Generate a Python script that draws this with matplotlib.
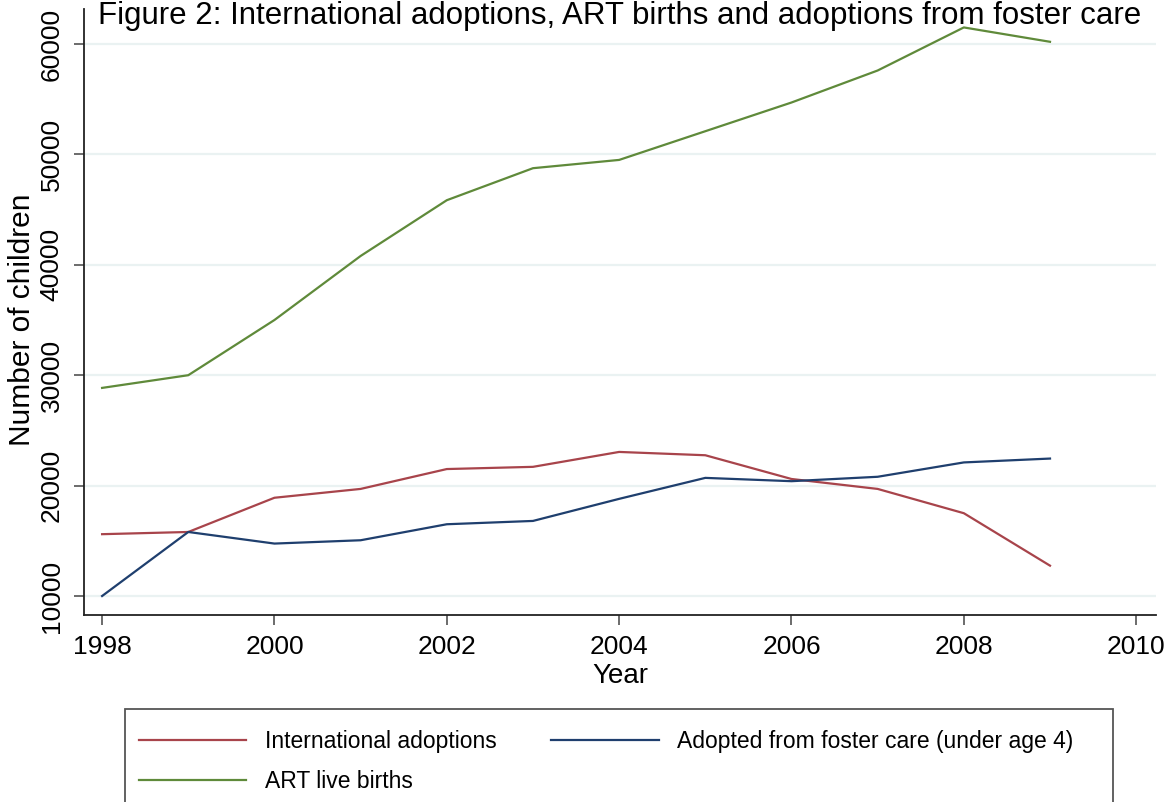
import matplotlib
matplotlib.use("Agg")
import matplotlib.pyplot as plt
from matplotlib.patches import Rectangle

plt.rcParams['font.family'] = ['Liberation Sans', 'DejaVu Sans']

years = [1998, 1999, 2000, 2001, 2002, 2003, 2004, 2005, 2006, 2007, 2008, 2009]
intl_adoptions = [15600, 15800, 18900, 19700, 21500, 21700, 23050, 22750, 20600, 19700, 17500, 12750]
foster_adoptions = [10000, 15800, 14750, 15050, 16500, 16800, 18800, 20700, 20400, 20800, 22100, 22450]
art_births = [28850, 30000, 35000, 40800, 45850, 48750, 49500, 52100, 54700, 57600, 61500, 60200]

x_ticks = [1998, 2000, 2002, 2004, 2006, 2008, 2010]
y_ticks = [10000, 20000, 30000, 40000, 50000, 60000]

c_red = '#a8444b'
c_navy = '#1f3f6e'
c_green = '#5f8a3a'

W, H = 1166, 802
fig = plt.figure(figsize=(W / 100, H / 100), dpi=100)
ax = fig.add_axes([84 / W, 1 - 615 / H, (1156 - 84) / W, (615 - 9) / H])

l1, = ax.plot(years, intl_adoptions, color=c_red, lw=1.6, label="International adoptions")
l2, = ax.plot(years, foster_adoptions, color=c_navy, lw=1.6, label="Adopted from foster care (under age 4)")
l3, = ax.plot(years, art_births, color=c_green, lw=1.6, label="ART live births")

ax.set_xlim(1997.79, 2010.23)
ax.set_ylim(8280, 63170)
ax.set_xticks(x_ticks)
ax.set_yticks(y_ticks)
ax.grid(axis='y', color='#eaf2f2', lw=1.6)
ax.set_axisbelow(True)

for s in ['top', 'right']:
    ax.spines[s].set_visible(False)
for s in ['left', 'bottom']:
    ax.spines[s].set_linewidth(1.3)
    ax.spines[s].set_color('#222222')

ax.tick_params(axis='both', direction='out', length=7.5, width=1.1, color='#444444',
               labelsize=19, pad=7)
ax.tick_params(axis='y', labelrotation=90)
for t in ax.get_yticklabels():
    t.set_va('center')

ax.set_xlabel("Year", fontsize=20)
ax.xaxis.set_label_coords(0.5, -0.08)
ax.set_ylabel("Number of children", fontsize=21.5)
ax.yaxis.label.set_va('center')
ax.yaxis.set_label_coords((22 - 84) / 1072, 0.487)

# title sits at the very top edge, as in the source figure
fig.text(620 / W, 1 - 1 / H,
         "Figure 2: International adoptions, ART births and adoptions from foster care",
         ha='center', va='top', fontsize=22.5)

# legend frame runs off the bottom of the picture
fig.patches.append(Rectangle((125 / W, -0.05), (1113 - 125) / W, 0.05 + 1 - 709 / H,
                             transform=fig.transFigure, fill=False,
                             edgecolor='#555555', lw=1.3))
fig.legend([l1, l3, l2], [l1.get_label(), l3.get_label(), l2.get_label()],
           ncol=2, frameon=False, fontsize=16.5, loc='upper left',
           bbox_to_anchor=(118 / W, 1 - 709 / H), handlelength=4.7,
           handletextpad=0.8, columnspacing=2.4, labelspacing=0.78)

fig.savefig("out.png", dpi=100)
